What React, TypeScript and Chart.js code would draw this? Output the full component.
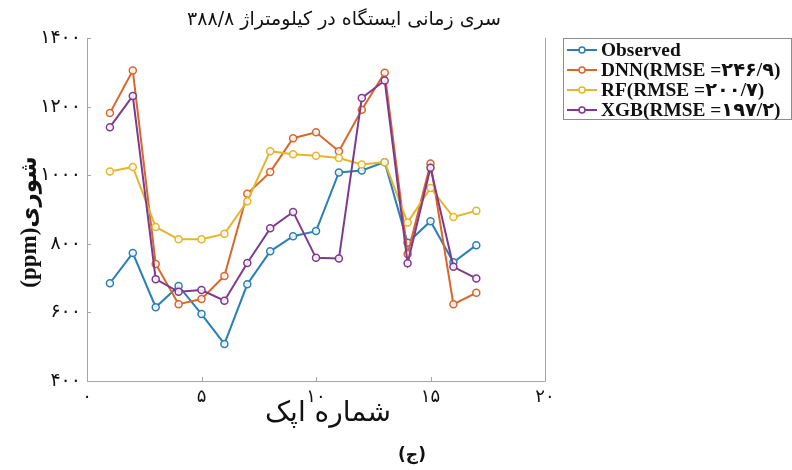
import React, { useEffect, useRef } from "react";
import { Chart, registerables } from "chart.js";

Chart.register(...registerables);

const epochs = [1, 2, 3, 4, 5, 6, 7, 8, 9, 10, 11, 12, 13, 14, 15, 16, 17];
const observed = [685, 773, 615, 677, 595, 508, 682, 778, 822, 837, 1008, 1014, 1038, 803, 866, 746, 796];
const dnn = [1181, 1305, 741, 624, 639, 706, 946, 1009, 1108, 1125, 1070, 1191, 1299, 770, 1034, 624, 657];
const rf = [1011, 1024, 849, 813, 813, 829, 924, 1070, 1061, 1057, 1050, 1031, 1038, 862, 963, 878, 896];
const xgb = [1140, 1231, 697, 660, 665, 634, 744, 845, 893, 759, 757, 1225, 1276, 743, 1022, 733, 699];

const seriesNames = ["Observed", "DNN(RMSE =۲۴۶/۹)", "RF(RMSE =۲۰۰/۷)", "XGB(RMSE =۱۹۷/۲)"];
const seriesColors = ["#2b7fb3", "#d8672c", "#e4b52e", "#7f3a8f"];

const titleText = "سری زمانی ایستگاه در کیلومتراژ ۳۸۸/۸";
const xTitle = "شماره اپک";
const yTitle = "شوری(ppm)";
const captionText = "(ج)";

const faDigits = "۰۱۲۳۴۵۶۷۸۹";
const toFa = (v: number | string) => String(v).replace(/\d/g, (d) => faDigits[Number(d)]);

const PERSIAN_FONT = "'DejaVu Sans', 'Noto Sans', sans-serif";
const SERIF_BOLD = "'Liberation Serif', 'DejaVu Serif', serif";

const decorPlugin = {
  id: "decor",
  afterDraw(chart: any) {
    const ctx = chart.ctx as CanvasRenderingContext2D;
    const { left, right, top, bottom } = chart.chartArea;
    const xs = chart.scales.x;
    const ys = chart.scales.y;
    ctx.save();
    // axes box (left, bottom, right)
    ctx.strokeStyle = "#a6a6a6";
    ctx.lineWidth = 1;
    ctx.beginPath();
    ctx.moveTo(left + 0.5, top);
    ctx.lineTo(left + 0.5, bottom + 0.5);
    ctx.lineTo(right + 0.5, bottom + 0.5);
    ctx.lineTo(right + 0.5, top);
    ctx.stroke();
    // inward ticks
    ctx.beginPath();
    ys.ticks.forEach((t: any) => {
      const y = Math.round(ys.getPixelForValue(t.value)) + 0.5;
      ctx.moveTo(left, y);
      ctx.lineTo(left + 4, y);
    });
    xs.ticks.forEach((t: any) => {
      const x = Math.round(xs.getPixelForValue(t.value)) + 0.5;
      ctx.moveTo(x, bottom);
      ctx.lineTo(x, bottom - 4);
    });
    ctx.stroke();

    // title
    ctx.fillStyle = "#111";
    ctx.direction = "rtl";
    ctx.textAlign = "center";
    ctx.textBaseline = "middle";
    ctx.font = `19px ${PERSIAN_FONT}`;
    ctx.fillText(titleText, 344, 20);

    // x title
    ctx.font = `28px ${PERSIAN_FONT}`;
    ctx.fillText(xTitle, 328, 414);

    // caption
    ctx.font = `bold 17px ${PERSIAN_FONT}`;
    ctx.fillText(captionText, 412, 456);

    // y title
    ctx.save();
    ctx.translate(30, 222);
    ctx.rotate(-Math.PI / 2);
    ctx.font = `bold 23px ${SERIF_BOLD}, ${PERSIAN_FONT}`;
    ctx.fillText(yTitle, 0, 0);
    ctx.restore();

    // legend
    ctx.direction = "ltr";
    const lx = 563, ly = 38, lw = 228, lh = 81;
    ctx.fillStyle = "#ffffff";
    ctx.fillRect(lx, ly, lw, lh);
    ctx.strokeStyle = "#8c8c8c";
    ctx.lineWidth = 1;
    ctx.strokeRect(lx + 0.5, ly + 0.5, lw, lh);
    const rowsY = [50, 70, 90, 110];
    seriesNames.forEach((name, i) => {
      const y = rowsY[i];
      ctx.strokeStyle = seriesColors[i];
      ctx.lineWidth = 2;
      ctx.beginPath();
      ctx.moveTo(567, y);
      ctx.lineTo(597, y);
      ctx.stroke();
      ctx.beginPath();
      ctx.fillStyle = "#ffffff";
      ctx.arc(582, y, 3, 0, Math.PI * 2);
      ctx.fill();
      ctx.lineWidth = 1.5;
      ctx.stroke();
      ctx.fillStyle = "#111";
      ctx.textAlign = "left";
      ctx.textBaseline = "middle";
      ctx.font = `bold 19px ${SERIF_BOLD}, ${PERSIAN_FONT}`;
      ctx.save();
      ctx.translate(601, y + 1);
      ctx.scale(1.02, 1);
      ctx.fillText(name, 0, 0);
      ctx.restore();
    });
    ctx.restore();
  },
};

export default function App() {
  const ref = useRef<HTMLCanvasElement | null>(null);

  useEffect(() => {
    document.body.style.margin = "0";
    if (!ref.current) return;
    const seriesData = [observed, dnn, rf, xgb];
    const orders = [3, 2, 1, 0];
    const chart = new Chart(ref.current, {
      type: "line",
      data: {
        labels: epochs,
        datasets: seriesData.map((vals, i) => ({
          label: seriesNames[i],
          data: vals.map((v, j) => ({ x: epochs[j], y: v })),
          borderColor: seriesColors[i],
          backgroundColor: seriesColors[i],
          pointBackgroundColor: "rgba(255,255,255,0.85)",
          pointBorderColor: seriesColors[i],
          pointBorderWidth: 1.5,
          pointRadius: 3.5,
          borderWidth: 2,
          tension: 0,
          fill: false,
          order: orders[i],
        })),
      },
      options: {
        animation: false,
        responsive: false,
        maintainAspectRatio: false,
        layout: { padding: { left: 0, top: 38, right: 247, bottom: 0 } },
        plugins: {
          legend: { display: false },
          title: { display: false },
          tooltip: { enabled: false },
        },
        scales: {
          x: {
            type: "linear",
            min: 0,
            max: 20,
            border: { display: false },
            grid: { display: false, drawTicks: false },
            ticks: {
              stepSize: 5,
              padding: 6,
              color: "#111",
              font: { size: 18, family: PERSIAN_FONT },
              maxRotation: 0,
              callback: (v: any) => toFa(v),
            },
            afterFit: (s: any) => {
              s.height = 89;
            },
          },
          y: {
            type: "linear",
            min: 400,
            max: 1400,
            border: { display: false },
            grid: { display: false, drawTicks: false },
            ticks: {
              stepSize: 200,
              padding: 6,
              color: "#111",
              font: { size: 19, family: PERSIAN_FONT },
              callback: (v: any) => toFa(v),
            },
            afterFit: (s: any) => {
              s.width = 87;
            },
          },
        },
      },
      plugins: [decorPlugin],
    });
    return () => chart.destroy();
  }, []);

  return (
    <div style={{ width: 792, height: 470, background: "#fff" }}>
      <canvas ref={ref} width={792} height={470} style={{ display: "block" }} />
    </div>
  );
}
